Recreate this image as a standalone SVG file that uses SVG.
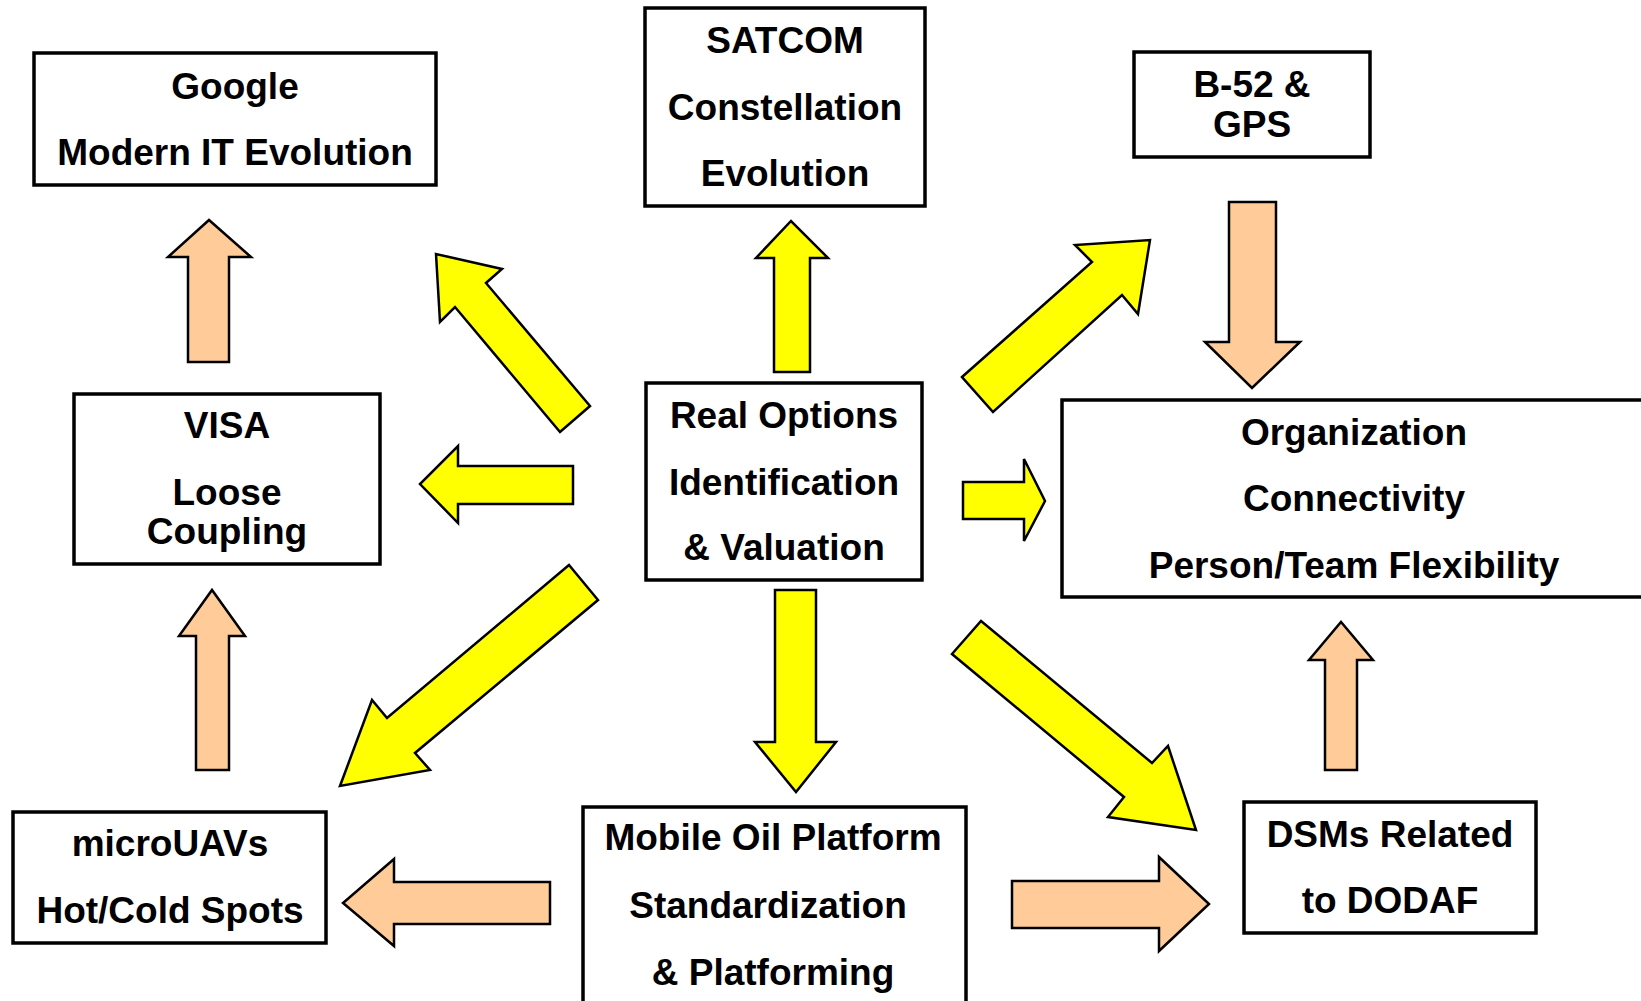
<svg xmlns="http://www.w3.org/2000/svg" width="1641" height="1001" viewBox="0 0 1641 1001">
<style>
.box{fill:#fff;stroke:#000;stroke-width:3.5}
.t{font-family:"Liberation Sans",Arial,sans-serif;font-weight:bold;font-size:37px;text-anchor:middle;fill:#000}
.y{fill:#ffff00;stroke:#000;stroke-width:2.5;stroke-linejoin:miter}
.p{fill:#ffcc99;stroke:#000;stroke-width:2.5;stroke-linejoin:miter}
</style>
<rect width="1641" height="1001" fill="#fff"/>
<g id="connectors">
<polygon class="p" points="188,362 188,257 168,257 209,220 251,257 229,257 229,362"/>
<polygon class="p" points="196,770 196,636 179,636 212,590 245,636 229,636 229,770"/>
<polygon class="p" points="1229,202 1276,202 1276,342 1300,342 1252,388 1205,342 1229,342"/>
<polygon class="p" points="1325,770 1325,660 1309,660 1341,622 1373,660 1357,660 1357,770"/>
<polygon class="p" points="550,882 394,882 394,859 343,903 394,946 394,924 550,924"/>
<polygon class="p" points="1012,881 1159,881 1159,857 1209,904 1159,951 1159,928 1012,928"/>
<polygon class="y" points="774,372 774,258 756,258 791,221 828,258 810,258 810,372"/>
<polygon class="y" points="573,466 458,466 458,446 420,484 458,523 458,504 573,504"/>
<polygon class="y" points="963,482 1024,482 1024,459 1045,501 1024,541 1024,519 963,519"/>
<polygon class="y" points="775,590 816,590 816,742 836,742 796,792 755,742 775,742"/>
<polygon class="y" points="590,406 486,283 502,269 436,254 440,322 455,307 560,432"/>
<polygon class="y" points="962,377 1092,262 1075,245 1150,240 1138,314 1122,295 993,412"/>
<polygon class="y" points="569,565 387,718 372,700 340,786 430,770 415,753 598,600"/>
<polygon class="y" points="981,621 1152,763 1168,746 1196,830 1108,817 1124,797 952,654"/>
</g>
<g id="google">
<rect class="box" x="34" y="53" width="402" height="132"/>
<text class="t" x="235" y="99">Google</text>
<text class="t" x="235" y="165">Modern IT Evolution</text>
</g>
<g id="satcom">
<rect class="box" x="645" y="8" width="280" height="198"/>
<text class="t" x="785" y="53">SATCOM</text>
<text class="t" x="785" y="120">Constellation</text>
<text class="t" x="785" y="186">Evolution</text>
</g>
<g id="b52">
<rect class="box" x="1134" y="52" width="236" height="105"/>
<text class="t" x="1252" y="97">B-52 &amp;</text>
<text class="t" x="1252" y="137">GPS</text>
</g>
<g id="visa">
<rect class="box" x="74" y="394" width="306" height="170"/>
<text class="t" x="227" y="438">VISA</text>
<text class="t" x="227" y="505">Loose</text>
<text class="t" x="227" y="544">Coupling</text>
</g>
<g id="realoptions">
<rect class="box" x="646" y="383" width="276" height="197"/>
<text class="t" x="784" y="428">Real Options</text>
<text class="t" x="784" y="495">Identification</text>
<text class="t" x="784" y="560">&amp; Valuation</text>
</g>
<g id="organization">
<rect class="box" x="1062" y="400" width="600" height="197"/>
<text class="t" x="1354" y="445">Organization</text>
<text class="t" x="1354" y="511">Connectivity</text>
<text class="t" x="1354" y="578">Person/Team Flexibility</text>
</g>
<g id="mobile">
<rect class="box" x="583" y="807" width="383" height="220"/>
<text class="t" x="773" y="850">Mobile Oil Platform</text>
<text class="t" x="768" y="918">Standardization</text>
<text class="t" x="773" y="985">&amp; Platforming</text>
</g>
<g id="microuavs">
<rect class="box" x="13" y="812" width="313" height="131"/>
<text class="t" x="170" y="856">microUAVs</text>
<text class="t" x="170" y="923">Hot/Cold Spots</text>
</g>
<g id="dsms">
<rect class="box" x="1244" y="802" width="292" height="131"/>
<text class="t" x="1390" y="847">DSMs Related</text>
<text class="t" x="1390" y="913">to DODAF</text>
</g>
</svg>
